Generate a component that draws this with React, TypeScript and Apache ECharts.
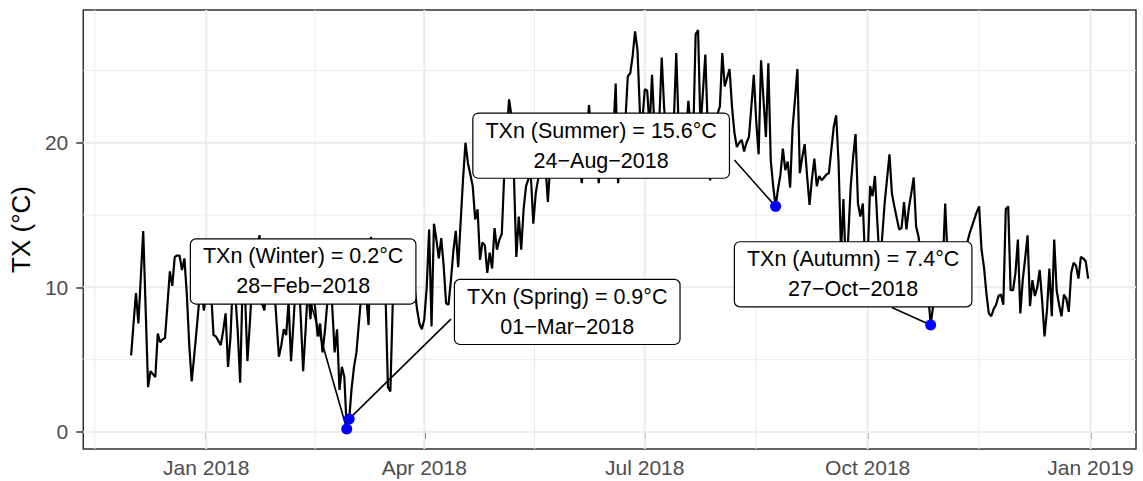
import React, { useEffect, useRef } from "react";
import * as echarts from "echarts";

const FONT = '"Liberation Sans", Arial, Helvetica, sans-serif';
const DAY = 86400000;

// Daily maximum temperature (TX, °C), starting 2017-12-01
const seriesStart = "2017-12-01";
const tx2017Dec = [5.3, 7.5, 9.6, 7.5, 10.7, 13.9, 8.5, 3.1, 4.2, 4.0, 3.8, 6.8, 6.2, 6.4, 6.5, 8.8, 11.1, 10.1, 12.1, 12.2, 12.2, 11.2, 12.0, 9.5, 6.0, 3.5, 5.2, 7.0, 8.9, 10.5, 8.4];
const tx2018Jan = [9.5, 11.0, 9.8, 6.7, 6.6, 6.3, 6.0, 7.0, 8.2, 4.5, 6.5, 10.5, 9.5, 7.0, 3.4, 10.2, 9.6, 4.9, 7.5, 10.5, 11.5, 12.5, 13.6, 8.9, 8.4, 10.0, 11.5, 11.0, 10.2, 7.7, 5.2];
const tx2018Feb = [6.0, 7.1, 6.7, 9.0, 4.9, 7.5, 10.5, 11.5, 8.0, 4.2, 7.0, 10.2, 7.8, 10.0, 8.5, 6.6, 7.5, 5.5, 7.0, 9.0, 10.5, 8.7, 5.5, 7.1, 2.9, 4.5, 3.8, 0.2];
const tx2018Mar = [0.9, 3.0, 4.5, 5.5, 7.5, 9.5, 10.5, 9.5, 7.4, 13.5, 11.0, 10.0, 11.5, 12.0, 10.5, 9.5, 3.1, 2.8, 9.0, 11.0, 12.5, 11.5, 12.0, 10.5, 11.5, 12.5, 11.0, 10.0, 8.5, 7.5, 7.1];
const tx2018Apr = [7.8, 10.0, 14.0, 7.3, 14.4, 13.3, 12.0, 13.4, 11.5, 8.9, 8.8, 10.5, 12.5, 13.9, 11.4, 14.5, 17.5, 20.0, 18.6, 17.8, 17.0, 14.7, 15.4, 11.9, 13.1, 12.9, 11.0, 12.4, 11.3, 14.1];
const tx2018May = [12.6, 13.3, 13.7, 17.8, 20.5, 23.0, 21.8, 17.7, 12.1, 14.9, 12.6, 15.4, 17.0, 17.5, 17.7, 14.4, 16.5, 17.5, 19.0, 20.0, 18.5, 15.9, 18.5, 20.0, 21.0, 20.5, 19.5, 20.5, 21.5, 20.0, 19.0];
const tx2018Jun = [20.0, 19.5, 20.5, 19.0, 17.2, 19.5, 20.5, 22.6, 20.0, 19.5, 20.0, 17.2, 19.0, 20.5, 21.0, 20.0, 19.5, 20.5, 24.1, 17.2, 19.5, 20.5, 21.5, 24.6, 24.8, 26.0, 27.7, 26.4, 22.1, 21.5];
const tx2018Jul = [23.7, 23.6, 21.0, 24.7, 21.0, 20.0, 21.5, 25.9, 22.4, 20.5, 19.5, 20.5, 21.5, 26.2, 21.0, 20.0, 19.5, 20.5, 22.9, 21.0, 20.5, 27.5, 27.8, 21.0, 23.5, 26.1, 21.0, 17.4, 20.0, 21.0, 22.0];
const tx2018Aug = [22.5, 26.2, 23.9, 24.5, 25.1, 22.5, 20.7, 19.7, 20.0, 20.2, 19.4, 20.0, 20.4, 22.5, 24.7, 21.5, 19.2, 25.7, 23.0, 20.4, 25.5, 18.8, 17.0, 15.6, 16.8, 17.8, 19.6, 18.1, 18.7, 16.9, 21.0];
const tx2018Sep = [23.0, 25.1, 17.9, 19.0, 19.9, 17.7, 15.7, 17.5, 18.9, 17.0, 17.7, 17.4, 17.6, 17.8, 17.9, 19.5, 21.1, 21.9, 18.6, 12.5, 16.1, 11.0, 13.5, 17.0, 19.0, 20.6, 15.8, 14.9, 15.8, 11.5];
const tx2018Oct = [12.0, 17.0, 16.3, 17.7, 14.5, 11.5, 13.5, 15.8, 17.5, 19.2, 16.5, 15.6, 14.8, 14.0, 14.1, 15.9, 14.0, 15.5, 16.5, 17.6, 14.2, 13.5, 12.0, 10.5, 11.5, 9.5, 7.4, 8.7, 9.0, 9.5, 12.5];
const tx2018Nov = [11.5, 15.8, 12.0, 10.5, 11.0, 12.0, 11.5, 10.5, 11.5, 12.5, 13.0, 13.7, 14.2, 14.7, 15.2, 15.6, 12.6, 11.4, 9.6, 8.2, 8.0, 8.5, 8.8, 9.4, 9.5, 8.8, 15.4, 15.6, 9.8, 9.8];
const tx2018Dec = [11.0, 13.3, 8.2, 10.5, 12.0, 13.6, 8.7, 10.5, 9.4, 10.0, 11.2, 9.1, 6.6, 8.4, 11.3, 8.0, 13.3, 9.8, 8.8, 8.0, 9.5, 9.2, 8.3, 11.0, 11.7, 11.5, 10.6, 12.1, 12.0, 11.8, 10.6];
const monthlyTX = [tx2017Dec, tx2018Jan, tx2018Feb, tx2018Mar, tx2018Apr, tx2018May, tx2018Jun, tx2018Jul, tx2018Aug, tx2018Sep, tx2018Oct, tx2018Nov, tx2018Dec];

// Seasonal minima (TXn)
const extremeDates = ["2018-02-28", "2018-03-01", "2018-08-24", "2018-10-27"];
const extremeValues = [0.2, 0.9, 15.6, 7.4];
const labelLine1 = ["TXn (Winter) = 0.2°C", "TXn (Spring) = 0.9°C", "TXn (Summer) = 15.6°C", "TXn (Autumn) = 7.4°C"];
const labelLine2 = ["28−Feb−2018", "01−Mar−2018", "24−Aug−2018", "27−Oct−2018"];
// repelled label centres and segment ends, in data space
const labelCenterDates = ["2018-02-10", "2018-05-30", "2018-06-13", "2018-09-25"];
const labelCenterValues = [11.1, 8.3, 19.8, 10.9];
const segmentEndDates = ["2018-02-13", "2018-04-12", "2018-08-07", "2018-10-11"];
const segmentEndValues = [9.0, 7.8, 18.8, 8.6];

// Axis breaks
const xQuarterBreaks = ["2017-10-01", "2018-01-01", "2018-04-01", "2018-07-01", "2018-10-01", "2019-01-01", "2019-04-01"];
const MONTHS = ["Jan", "Feb", "Mar", "Apr", "May", "Jun", "Jul", "Aug", "Sep", "Oct", "Nov", "Dec"];
const yMajorBreaks = [0, 10, 20];
const yMinorBreaks = [5, 15, 25];

function ts(s: string): number {
  return Date.parse(s + "T00:00:00Z");
}

export default function App() {
  const ref = useRef<HTMLDivElement>(null);

  useEffect(() => {
    const el = ref.current;
    if (!el) return;
    const chart = echarts.init(el, null, { renderer: "svg" });

    const values = monthlyTX.flat();
    const t0 = ts(seriesStart);
    const linePoints = values.map((v, i) => [t0 + i * DAY, v]);
    const tLast = t0 + (values.length - 1) * DAY;
    const xPad = (tLast - t0) * 0.05;
    const xMin = t0 - xPad;
    const xMax = tLast + xPad;
    const vMin = Math.min(...values);
    const vMax = Math.max(...values);
    const yPad = (vMax - vMin) * 0.05;
    const yMin = vMin - yPad;
    const yMax = vMax + yPad;

    const majors = xQuarterBreaks.map(ts);
    const xMajor = majors.filter((t) => t >= xMin && t <= xMax);
    const xMinor: number[] = [];
    for (let i = 0; i < majors.length - 1; i++) {
      const m = (majors[i] + majors[i + 1]) / 2;
      if (m >= xMin && m <= xMax) xMinor.push(m);
    }
    const vGrid = [...xMinor.map((t) => [t, 0]), ...xMajor.map((t) => [t, 1])];
    const hGrid = [...yMinorBreaks.map((v) => [xMin, v, 0]), ...yMajorBreaks.map((v) => [xMin, v, 1])];

    const fmt = (v: number) => {
      const d = new Date(v);
      return `${MONTHS[d.getUTCMonth()]} ${d.getUTCFullYear()}`;
    };

    chart.setOption({
      animation: false,
      backgroundColor: "#ffffff",
      grid: {
        show: true,
        left: 83,
        right: 7,
        top: 10,
        bottom: 32,
        borderColor: "#333333",
        borderWidth: 1.5,
        backgroundColor: "#ffffff",
        containLabel: false,
      },
      xAxis: {
        type: "value",
        min: xMin,
        max: xMax,
        scale: true,
        axisLine: { show: false },
        splitLine: { show: false },
        axisTick: { show: true, length: 7, customValues: xMajor, lineStyle: { color: "#333333", width: 1.5 } },
        axisLabel: {
          customValues: xMajor,
          formatter: fmt,
          color: "#4D4D4D",
          fontSize: 21,
          fontFamily: FONT,
          margin: 8,
          showMinLabel: true,
          showMaxLabel: true,
        },
      },
      yAxis: {
        type: "value",
        min: yMin,
        max: yMax,
        name: "TX (°C)",
        nameLocation: "middle",
        nameGap: 45,
        nameTextStyle: { fontSize: 26, color: "#000000", fontFamily: FONT },
        axisLine: { show: false },
        splitLine: { show: false },
        axisTick: { show: true, length: 7, customValues: yMajorBreaks, lineStyle: { color: "#333333", width: 1.5 } },
        axisLabel: {
          customValues: yMajorBreaks,
          color: "#4D4D4D",
          fontSize: 21,
          fontFamily: FONT,
          margin: 15,
        },
      },
      series: [
        {
          type: "custom",
          z: 1,
          silent: true,
          data: vGrid,
          renderItem: (params: any, api: any) => {
            const cs = params.coordSys;
            const x = api.coord([api.value(0), yMin])[0];
            return {
              type: "line",
              shape: { x1: x, y1: cs.y, x2: x, y2: cs.y + cs.height },
              style: { stroke: "#EBEBEB", lineWidth: api.value(1) ? 2 : 1 },
            };
          },
        },
        {
          type: "custom",
          z: 1,
          silent: true,
          data: hGrid,
          renderItem: (params: any, api: any) => {
            const cs = params.coordSys;
            const y = api.coord([xMin, api.value(1)])[1];
            return {
              type: "line",
              shape: { x1: cs.x, y1: y, x2: cs.x + cs.width, y2: y },
              style: { stroke: "#EBEBEB", lineWidth: api.value(2) ? 2 : 1 },
            };
          },
        },
        {
          type: "line",
          z: 2,
          data: linePoints,
          showSymbol: false,
          symbol: "none",
          silent: true,
          lineStyle: { color: "#000000", width: 2.2 },
        },
        {
          type: "scatter",
          z: 4,
          silent: true,
          data: extremeDates.map((d, i) => [ts(d), extremeValues[i]]),
          symbol: "circle",
          symbolSize: 11,
          itemStyle: { color: "#0000FF", opacity: 1 },
        },
      ],
    });

    const elements: any[] = [];
    extremeDates.forEach((d, i) => {
      const p = chart.convertToPixel({ gridIndex: 0 }, [ts(d), extremeValues[i]]) as number[];
      const e = chart.convertToPixel({ gridIndex: 0 }, [ts(segmentEndDates[i]), segmentEndValues[i]]) as number[];
      const c = chart.convertToPixel({ gridIndex: 0 }, [ts(labelCenterDates[i]), labelCenterValues[i]]) as number[];
      elements.push({
        type: "line",
        z: 3,
        silent: true,
        shape: { x1: p[0], y1: p[1], x2: e[0], y2: e[1] },
        style: { stroke: "#000000", lineWidth: 1.6 },
      });
      elements.push({
        type: "text",
        z: 10,
        silent: true,
        x: c[0],
        y: c[1],
        style: {
          text: labelLine1[i] + "\n" + labelLine2[i],
          fill: "#000000",
          fontSize: 21.5,
          fontFamily: FONT,
          align: "center",
          verticalAlign: "middle",
          lineHeight: 30,
          backgroundColor: "#ffffff",
          borderColor: "#000000",
          borderWidth: 1.2,
          borderRadius: 5,
          padding: [3, 12, 1, 12],
        },
      });
    });
    chart.setOption({ graphic: { elements } });

    return () => {
      chart.dispose();
    };
  }, []);

  return (
    <div
      ref={ref}
      style={{ position: "absolute", left: 0, top: 0, width: 1143, height: 481, background: "#ffffff" }}
    />
  );
}
